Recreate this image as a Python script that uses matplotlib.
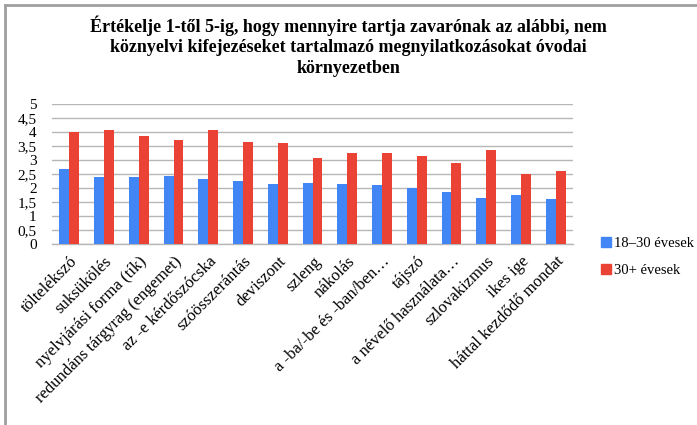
import matplotlib

matplotlib.use("Agg")
import matplotlib.pyplot as plt
import numpy as np
from matplotlib.lines import Line2D

TITLE = ("Értékelje 1-től 5-ig, hogy mennyire tartja zavarónak az alábbi, nem\n"
         "köznyelvi kifejezéseket tartalmazó megnyilatkozásokat óvodai\n"
         "környezetben")

categories = [
    "töltelékszó", "suksükölés", "nyelvjárási forma (tík)",
    "redundáns tárgyrag (engemet)", "az -e kérdőszócska", "szóösszerántás",
    "deviszont", "szleng", "nákolás", "a -ba/-be és -ban/ben…", "tájszó",
    "a névelő használata…", "szlovakizmus", "ikes ige", "háttal kezdődő mondat",
]
young = [2.66, 2.38, 2.40, 2.43, 2.33, 2.23, 2.13, 2.17, 2.13, 2.09, 2.01,
         1.84, 1.64, 1.75, 1.61]
older = [4.00, 4.07, 3.87, 3.71, 4.07, 3.64, 3.62, 3.08, 3.24, 3.24, 3.15,
         2.88, 3.35, 2.51, 2.59]
series_labels = ["18–30 évesek", "30+ évesek"]
yticks = [0, 0.5, 1, 1.5, 2, 2.5, 3, 3.5, 4, 4.5, 5]

BLUE = "#4285f4"
RED = "#ea4335"
SERIF = ["Liberation Serif", "DejaVu Serif"]

fig = plt.figure(figsize=(6.97, 4.25), dpi=100)
W, H = 697, 425
ax = fig.add_axes([52 / W, 1 - 243.7 / H, (573 - 52) / W, (243.7 - 104) / H])

x = np.arange(len(categories))
bw = 0.285
ax.bar(x - bw / 2, young, bw, color=BLUE, label=series_labels[0], zorder=3)
ax.bar(x + bw / 2, older, bw, color=RED, label=series_labels[1], zorder=3)

ax.set_xlim(-0.5, len(categories) - 0.5)
ax.set_ylim(0, 5)
ax.set_yticks(yticks)
ax.set_yticklabels([f"{v:g}".replace(".", ",") for v in yticks],
                   family=SERIF, fontsize=11)
ax.yaxis.grid(True, color="#b7b7b7", linewidth=1.0, zorder=0)
ax.tick_params(axis="y", length=0, pad=11)
ax.tick_params(axis="x", length=0, pad=7)
ax.set_xticks(x)
ax.set_xticklabels(categories, rotation=45, ha="right", va="top",
                   rotation_mode="anchor", family=SERIF, fontsize=12)
for s in ["top", "right", "left"]:
    ax.spines[s].set_visible(False)
ax.spines["bottom"].set_color("#b7b7b7")
ax.spines["bottom"].set_linewidth(1.0)

fig.text(0.5, 1 - 15 / H, TITLE, ha="center", va="top", family=SERIF,
         fontweight="bold", fontsize=13, linespacing=1.3)

handles = [Line2D([], [], marker="s", linestyle="", markersize=7, color=c)
           for c in (BLUE, RED)]
fig.legend(handles, series_labels, loc="center left",
           bbox_to_anchor=(586 / W, 1 - 257 / H), frameon=False,
           prop={"family": SERIF, "size": 10.5}, handletextpad=0.05,
           labelspacing=1.0, handlelength=1.0)

# outer chart border (gray, left and top visible)
fig.add_artist(Line2D([4.5 / W, 4.5 / W], [0, 1 - 5 / H], color="#a0a0a0",
                      linewidth=2, transform=fig.transFigure))
fig.add_artist(Line2D([4.5 / W, 1], [1 - 5 / H, 1 - 5 / H], color="#a0a0a0",
                      linewidth=2, transform=fig.transFigure))

fig.savefig("out.png", dpi=100)
